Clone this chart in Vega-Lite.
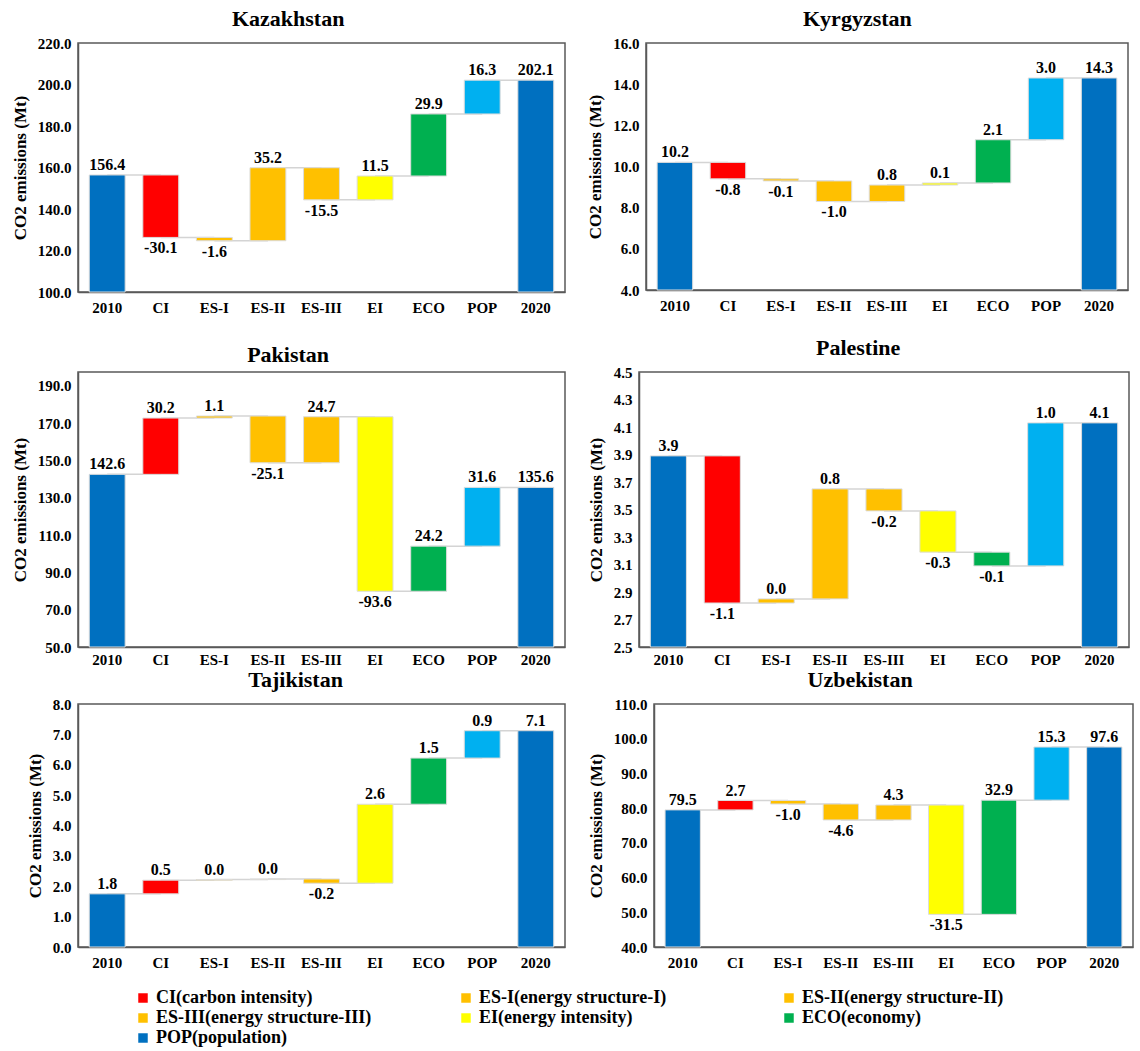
{
  "$schema": "https://vega.github.io/schema/vega-lite/v6.json",
  "padding": {"left": 10, "top": 7, "right": 5, "bottom": 5},
  "datasets": {
    "wf": [
      {"country": "Kazakhstan", "cat": "2010", "next": "CI", "start": 100, "end": 156.4, "label": "156.4", "grp": "POP(population)"},
      {"country": "Kazakhstan", "cat": "CI", "next": "ES-I", "start": 156.4, "end": 126.3, "label": "-30.1", "grp": "CI(carbon intensity)"},
      {"country": "Kazakhstan", "cat": "ES-I", "next": "ES-II", "start": 126.3, "end": 124.7, "label": "-1.6", "grp": "ES-I(energy structure-I)"},
      {"country": "Kazakhstan", "cat": "ES-II", "next": "ES-III", "start": 124.7, "end": 159.9, "label": "35.2", "grp": "ES-II(energy structure-II)"},
      {"country": "Kazakhstan", "cat": "ES-III", "next": "EI", "start": 159.9, "end": 144.4, "label": "-15.5", "grp": "ES-III(energy structure-III)"},
      {"country": "Kazakhstan", "cat": "EI", "next": "ECO", "start": 144.4, "end": 155.9, "label": "11.5", "grp": "EI(energy intensity)"},
      {"country": "Kazakhstan", "cat": "ECO", "next": "POP", "start": 155.9, "end": 185.8, "label": "29.9", "grp": "ECO(economy)"},
      {"country": "Kazakhstan", "cat": "POP", "next": "2020", "start": 185.8, "end": 202.1, "label": "16.3", "grp": "POP"},
      {"country": "Kazakhstan", "cat": "2020", "next": null, "start": 100, "end": 202.1, "label": "202.1", "grp": "POP(population)"},

      {"country": "Kyrgyzstan", "cat": "2010", "next": "CI", "start": 4, "end": 10.2, "label": "10.2", "grp": "POP(population)"},
      {"country": "Kyrgyzstan", "cat": "CI", "next": "ES-I", "start": 10.2, "end": 9.4, "label": "-0.8", "grp": "CI(carbon intensity)"},
      {"country": "Kyrgyzstan", "cat": "ES-I", "next": "ES-II", "start": 9.4, "end": 9.3, "label": "-0.1", "grp": "ES-I(energy structure-I)"},
      {"country": "Kyrgyzstan", "cat": "ES-II", "next": "ES-III", "start": 9.3, "end": 8.3, "label": "-1.0", "grp": "ES-II(energy structure-II)"},
      {"country": "Kyrgyzstan", "cat": "ES-III", "next": "EI", "start": 8.3, "end": 9.1, "label": "0.8", "grp": "ES-III(energy structure-III)"},
      {"country": "Kyrgyzstan", "cat": "EI", "next": "ECO", "start": 9.1, "end": 9.2, "label": "0.1", "grp": "EI(energy intensity)"},
      {"country": "Kyrgyzstan", "cat": "ECO", "next": "POP", "start": 9.2, "end": 11.3, "label": "2.1", "grp": "ECO(economy)"},
      {"country": "Kyrgyzstan", "cat": "POP", "next": "2020", "start": 11.3, "end": 14.3, "label": "3.0", "grp": "POP"},
      {"country": "Kyrgyzstan", "cat": "2020", "next": null, "start": 4, "end": 14.3, "label": "14.3", "grp": "POP(population)"},

      {"country": "Pakistan", "cat": "2010", "next": "CI", "start": 50, "end": 142.6, "label": "142.6", "grp": "POP(population)"},
      {"country": "Pakistan", "cat": "CI", "next": "ES-I", "start": 142.6, "end": 172.8, "label": "30.2", "grp": "CI(carbon intensity)"},
      {"country": "Pakistan", "cat": "ES-I", "next": "ES-II", "start": 172.8, "end": 173.9, "label": "1.1", "grp": "ES-I(energy structure-I)"},
      {"country": "Pakistan", "cat": "ES-II", "next": "ES-III", "start": 173.9, "end": 148.8, "label": "-25.1", "grp": "ES-II(energy structure-II)"},
      {"country": "Pakistan", "cat": "ES-III", "next": "EI", "start": 148.8, "end": 173.5, "label": "24.7", "grp": "ES-III(energy structure-III)"},
      {"country": "Pakistan", "cat": "EI", "next": "ECO", "start": 173.5, "end": 79.9, "label": "-93.6", "grp": "EI(energy intensity)"},
      {"country": "Pakistan", "cat": "ECO", "next": "POP", "start": 79.9, "end": 104.1, "label": "24.2", "grp": "ECO(economy)"},
      {"country": "Pakistan", "cat": "POP", "next": "2020", "start": 104.1, "end": 135.6, "label": "31.6", "grp": "POP"},
      {"country": "Pakistan", "cat": "2020", "next": null, "start": 50, "end": 135.6, "label": "135.6", "grp": "POP(population)"},

      {"country": "Palestine", "cat": "2010", "next": "CI", "start": 2.5, "end": 3.89, "label": "3.9", "grp": "POP(population)"},
      {"country": "Palestine", "cat": "CI", "next": "ES-I", "start": 3.89, "end": 2.82, "label": "-1.1", "grp": "CI(carbon intensity)"},
      {"country": "Palestine", "cat": "ES-I", "next": "ES-II", "start": 2.82, "end": 2.85, "label": "0.0", "grp": "ES-I(energy structure-I)"},
      {"country": "Palestine", "cat": "ES-II", "next": "ES-III", "start": 2.85, "end": 3.65, "label": "0.8", "grp": "ES-II(energy structure-II)"},
      {"country": "Palestine", "cat": "ES-III", "next": "EI", "start": 3.65, "end": 3.49, "label": "-0.2", "grp": "ES-III(energy structure-III)"},
      {"country": "Palestine", "cat": "EI", "next": "ECO", "start": 3.49, "end": 3.19, "label": "-0.3", "grp": "EI(energy intensity)"},
      {"country": "Palestine", "cat": "ECO", "next": "POP", "start": 3.19, "end": 3.09, "label": "-0.1", "grp": "ECO(economy)"},
      {"country": "Palestine", "cat": "POP", "next": "2020", "start": 3.09, "end": 4.13, "label": "1.0", "grp": "POP"},
      {"country": "Palestine", "cat": "2020", "next": null, "start": 2.5, "end": 4.13, "label": "4.1", "grp": "POP(population)"},

      {"country": "Tajikistan", "cat": "2010", "next": "CI", "start": 0, "end": 1.75, "label": "1.8", "grp": "POP(population)"},
      {"country": "Tajikistan", "cat": "CI", "next": "ES-I", "start": 1.75, "end": 2.2, "label": "0.5", "grp": "CI(carbon intensity)"},
      {"country": "Tajikistan", "cat": "ES-I", "next": "ES-II", "start": 2.2, "end": 2.22, "label": "0.0", "grp": "ES-I(energy structure-I)"},
      {"country": "Tajikistan", "cat": "ES-II", "next": "ES-III", "start": 2.22, "end": 2.24, "label": "0.0", "grp": "ES-II(energy structure-II)"},
      {"country": "Tajikistan", "cat": "ES-III", "next": "EI", "start": 2.24, "end": 2.1, "label": "-0.2", "grp": "ES-III(energy structure-III)"},
      {"country": "Tajikistan", "cat": "EI", "next": "ECO", "start": 2.1, "end": 4.7, "label": "2.6", "grp": "EI(energy intensity)"},
      {"country": "Tajikistan", "cat": "ECO", "next": "POP", "start": 4.7, "end": 6.22, "label": "1.5", "grp": "ECO(economy)"},
      {"country": "Tajikistan", "cat": "POP", "next": "2020", "start": 6.22, "end": 7.12, "label": "0.9", "grp": "POP"},
      {"country": "Tajikistan", "cat": "2020", "next": null, "start": 0, "end": 7.12, "label": "7.1", "grp": "POP(population)"},

      {"country": "Uzbekistan", "cat": "2010", "next": "CI", "start": 40, "end": 79.5, "label": "79.5", "grp": "POP(population)"},
      {"country": "Uzbekistan", "cat": "CI", "next": "ES-I", "start": 79.5, "end": 82.2, "label": "2.7", "grp": "CI(carbon intensity)"},
      {"country": "Uzbekistan", "cat": "ES-I", "next": "ES-II", "start": 82.2, "end": 81.2, "label": "-1.0", "grp": "ES-I(energy structure-I)"},
      {"country": "Uzbekistan", "cat": "ES-II", "next": "ES-III", "start": 81.2, "end": 76.6, "label": "-4.6", "grp": "ES-II(energy structure-II)"},
      {"country": "Uzbekistan", "cat": "ES-III", "next": "EI", "start": 76.6, "end": 80.9, "label": "4.3", "grp": "ES-III(energy structure-III)"},
      {"country": "Uzbekistan", "cat": "EI", "next": "ECO", "start": 80.9, "end": 49.4, "label": "-31.5", "grp": "EI(energy intensity)"},
      {"country": "Uzbekistan", "cat": "ECO", "next": "POP", "start": 49.4, "end": 82.3, "label": "32.9", "grp": "ECO(economy)"},
      {"country": "Uzbekistan", "cat": "POP", "next": "2020", "start": 82.3, "end": 97.6, "label": "15.3", "grp": "POP"},
      {"country": "Uzbekistan", "cat": "2020", "next": null, "start": 40, "end": 97.6, "label": "97.6", "grp": "POP(population)"}
    ]
  },
  "data": {"name": "wf"},
  "vconcat": [
    {
      "concat": [
        {
          "title": "Kazakhstan", "width": 487, "height": 249,
          "transform": [{"filter": "datum.country === 'Kazakhstan'"}],
          "encoding": {
            "x": {"field": "cat", "type": "nominal", "sort": ["2010","CI","ES-I","ES-II","ES-III","EI","ECO","POP","2020"], "scale": {"paddingInner": 0.33, "paddingOuter": 0.21}, "title": null},
            "y": {"field": "end", "type": "quantitative", "scale": {"domain": [100, 220], "nice": false, "zero": false}, "axis": {"values": [100,120,140,160,180,200,220], "format": ".1f"}, "title": "CO2 emissions (Mt)"}
          },
          "layer": [
            {"mark": {"type": "rule", "color": "#d4d4d4", "strokeWidth": 1.5}, "transform": [{"filter": "datum.next != null"}], "encoding": {"x2": {"field": "next"}}},
            {"mark": {"type": "bar", "stroke": "#dcdcdc", "strokeWidth": 1}, "encoding": {"y2": {"field": "start"}, "color": {"field": "grp", "type": "nominal", "scale": {"domain": ["CI(carbon intensity)","ES-I(energy structure-I)","ES-II(energy structure-II)","ES-III(energy structure-III)","EI(energy intensity)","ECO(economy)","POP(population)","POP"], "range": ["#FF0000","#FFC000","#FFC000","#FFC000","#FFFF00","#00B050","#0070C0","#00B0F0"]}, "legend": {"values": ["CI(carbon intensity)","ES-I(energy structure-I)","ES-II(energy structure-II)","ES-III(energy structure-III)","EI(energy intensity)","ECO(economy)","POP(population)"], "title": null, "orient": "none", "legendX": 56, "legendY": 946}}}},
            {"mark": {"type": "text", "baseline": "bottom", "dy": -2, "fontSize": 16, "fontWeight": "bold"}, "transform": [{"filter": "datum.end >= datum.start"}], "encoding": {"text": {"field": "label"}}},
            {"mark": {"type": "text", "baseline": "top", "dy": 3, "fontSize": 16, "fontWeight": "bold"}, "transform": [{"filter": "datum.end < datum.start"}], "encoding": {"text": {"field": "label"}}}
          ]
        },
        {
          "title": "Kyrgyzstan", "width": 482, "height": 247,
          "transform": [{"filter": "datum.country === 'Kyrgyzstan'"}],
          "encoding": {
            "x": {"field": "cat", "type": "nominal", "sort": ["2010","CI","ES-I","ES-II","ES-III","EI","ECO","POP","2020"], "scale": {"paddingInner": 0.33, "paddingOuter": 0.21}, "title": null},
            "y": {"field": "end", "type": "quantitative", "scale": {"domain": [4, 16], "nice": false, "zero": false}, "axis": {"values": [4,6,8,10,12,14,16], "format": ".1f"}, "title": "CO2 emissions (Mt)"}
          },
          "layer": [
            {"mark": {"type": "rule", "color": "#d4d4d4", "strokeWidth": 1.5}, "transform": [{"filter": "datum.next != null"}], "encoding": {"x2": {"field": "next"}}},
            {"mark": {"type": "bar", "stroke": "#dcdcdc", "strokeWidth": 1}, "encoding": {"y2": {"field": "start"}, "color": {"field": "grp", "type": "nominal", "scale": {"domain": ["CI(carbon intensity)","ES-I(energy structure-I)","ES-II(energy structure-II)","ES-III(energy structure-III)","EI(energy intensity)","ECO(economy)","POP(population)","POP"], "range": ["#FF0000","#FFC000","#FFC000","#FFC000","#FFFF00","#00B050","#0070C0","#00B0F0"]}, "legend": {"values": ["CI(carbon intensity)","ES-I(energy structure-I)","ES-II(energy structure-II)","ES-III(energy structure-III)","EI(energy intensity)","ECO(economy)","POP(population)"], "title": null, "orient": "none", "legendX": 56, "legendY": 946}}}},
            {"mark": {"type": "text", "baseline": "bottom", "dy": -2, "fontSize": 16, "fontWeight": "bold"}, "transform": [{"filter": "datum.end >= datum.start"}], "encoding": {"text": {"field": "label"}}},
            {"mark": {"type": "text", "baseline": "top", "dy": 3, "fontSize": 16, "fontWeight": "bold"}, "transform": [{"filter": "datum.end < datum.start"}], "encoding": {"text": {"field": "label"}}}
          ]
        }
      ],
      "columns": 2,
      "align": "none",
      "spacing": 20
    },
    {
      "concat": [
        {
          "title": "Pakistan", "width": 487, "height": 275,
          "transform": [{"filter": "datum.country === 'Pakistan'"}],
          "encoding": {
            "x": {"field": "cat", "type": "nominal", "sort": ["2010","CI","ES-I","ES-II","ES-III","EI","ECO","POP","2020"], "scale": {"paddingInner": 0.33, "paddingOuter": 0.21}, "axis": {"labelPadding": 5}, "title": null},
            "y": {"field": "end", "type": "quantitative", "scale": {"domain": [50, 197.5], "nice": false, "zero": false}, "axis": {"values": [50,70,90,110,130,150,170,190], "format": ".1f"}, "title": "CO2 emissions (Mt)"}
          },
          "layer": [
            {"mark": {"type": "rule", "color": "#d4d4d4", "strokeWidth": 1.5}, "transform": [{"filter": "datum.next != null"}], "encoding": {"x2": {"field": "next"}}},
            {"mark": {"type": "bar", "stroke": "#dcdcdc", "strokeWidth": 1}, "encoding": {"y2": {"field": "start"}, "color": {"field": "grp", "type": "nominal", "scale": {"domain": ["CI(carbon intensity)","ES-I(energy structure-I)","ES-II(energy structure-II)","ES-III(energy structure-III)","EI(energy intensity)","ECO(economy)","POP(population)","POP"], "range": ["#FF0000","#FFC000","#FFC000","#FFC000","#FFFF00","#00B050","#0070C0","#00B0F0"]}, "legend": {"values": ["CI(carbon intensity)","ES-I(energy structure-I)","ES-II(energy structure-II)","ES-III(energy structure-III)","EI(energy intensity)","ECO(economy)","POP(population)"], "title": null, "orient": "none", "legendX": 56, "legendY": 946}}}},
            {"mark": {"type": "text", "baseline": "bottom", "dy": -2, "fontSize": 16, "fontWeight": "bold"}, "transform": [{"filter": "datum.end >= datum.start"}], "encoding": {"text": {"field": "label"}}},
            {"mark": {"type": "text", "baseline": "top", "dy": 3, "fontSize": 16, "fontWeight": "bold"}, "transform": [{"filter": "datum.end < datum.start"}], "encoding": {"text": {"field": "label"}}}
          ]
        },
        {
          "title": "Palestine", "width": 490, "height": 275,
          "transform": [{"filter": "datum.country === 'Palestine'"}],
          "encoding": {
            "x": {"field": "cat", "type": "nominal", "sort": ["2010","CI","ES-I","ES-II","ES-III","EI","ECO","POP","2020"], "scale": {"paddingInner": 0.33, "paddingOuter": 0.21}, "axis": {"labelPadding": 5}, "title": null},
            "y": {"field": "end", "type": "quantitative", "scale": {"domain": [2.5, 4.5], "nice": false, "zero": false}, "axis": {"values": [2.5,2.7,2.9,3.1,3.3,3.5,3.7,3.9,4.1,4.3,4.5], "format": ".1f"}, "title": "CO2 emissions (Mt)"}
          },
          "layer": [
            {"mark": {"type": "rule", "color": "#d4d4d4", "strokeWidth": 1.5}, "transform": [{"filter": "datum.next != null"}], "encoding": {"x2": {"field": "next"}}},
            {"mark": {"type": "bar", "stroke": "#dcdcdc", "strokeWidth": 1}, "encoding": {"y2": {"field": "start"}, "color": {"field": "grp", "type": "nominal", "scale": {"domain": ["CI(carbon intensity)","ES-I(energy structure-I)","ES-II(energy structure-II)","ES-III(energy structure-III)","EI(energy intensity)","ECO(economy)","POP(population)","POP"], "range": ["#FF0000","#FFC000","#FFC000","#FFC000","#FFFF00","#00B050","#0070C0","#00B0F0"]}, "legend": {"values": ["CI(carbon intensity)","ES-I(energy structure-I)","ES-II(energy structure-II)","ES-III(energy structure-III)","EI(energy intensity)","ECO(economy)","POP(population)"], "title": null, "orient": "none", "legendX": 56, "legendY": 946}}}},
            {"mark": {"type": "text", "baseline": "bottom", "dy": -2, "fontSize": 16, "fontWeight": "bold"}, "transform": [{"filter": "datum.end >= datum.start"}], "encoding": {"text": {"field": "label"}}},
            {"mark": {"type": "text", "baseline": "top", "dy": 3, "fontSize": 16, "fontWeight": "bold"}, "transform": [{"filter": "datum.end < datum.start"}], "encoding": {"text": {"field": "label"}}}
          ]
        },
        {
          "title": "Tajikistan", "width": 487, "height": 243,
          "transform": [{"filter": "datum.country === 'Tajikistan'"}],
          "encoding": {
            "x": {"field": "cat", "type": "nominal", "sort": ["2010","CI","ES-I","ES-II","ES-III","EI","ECO","POP","2020"], "scale": {"paddingInner": 0.33, "paddingOuter": 0.21}, "title": null},
            "y": {"field": "end", "type": "quantitative", "scale": {"domain": [0, 8], "nice": false, "zero": false}, "axis": {"values": [0,1,2,3,4,5,6,7,8], "format": ".1f"}, "title": "CO2 emissions (Mt)"}
          },
          "layer": [
            {"mark": {"type": "rule", "color": "#d4d4d4", "strokeWidth": 1.5}, "transform": [{"filter": "datum.next != null"}], "encoding": {"x2": {"field": "next"}}},
            {"mark": {"type": "bar", "stroke": "#dcdcdc", "strokeWidth": 1}, "encoding": {"y2": {"field": "start"}, "color": {"field": "grp", "type": "nominal", "scale": {"domain": ["CI(carbon intensity)","ES-I(energy structure-I)","ES-II(energy structure-II)","ES-III(energy structure-III)","EI(energy intensity)","ECO(economy)","POP(population)","POP"], "range": ["#FF0000","#FFC000","#FFC000","#FFC000","#FFFF00","#00B050","#0070C0","#00B0F0"]}, "legend": {"values": ["CI(carbon intensity)","ES-I(energy structure-I)","ES-II(energy structure-II)","ES-III(energy structure-III)","EI(energy intensity)","ECO(economy)","POP(population)"], "title": null, "orient": "none", "legendX": 56, "legendY": 946}}}},
            {"mark": {"type": "text", "baseline": "bottom", "dy": -2, "fontSize": 16, "fontWeight": "bold"}, "transform": [{"filter": "datum.end >= datum.start"}], "encoding": {"text": {"field": "label"}}},
            {"mark": {"type": "text", "baseline": "top", "dy": 3, "fontSize": 16, "fontWeight": "bold"}, "transform": [{"filter": "datum.end < datum.start"}], "encoding": {"text": {"field": "label"}}}
          ]
        },
        {
          "title": "Uzbekistan", "width": 479, "height": 243,
          "transform": [{"filter": "datum.country === 'Uzbekistan'"}],
          "encoding": {
            "x": {"field": "cat", "type": "nominal", "sort": ["2010","CI","ES-I","ES-II","ES-III","EI","ECO","POP","2020"], "scale": {"paddingInner": 0.33, "paddingOuter": 0.21}, "title": null},
            "y": {"field": "end", "type": "quantitative", "scale": {"domain": [40, 110], "nice": false, "zero": false}, "axis": {"values": [40,50,60,70,80,90,100,110], "format": ".1f"}, "title": "CO2 emissions (Mt)"}
          },
          "layer": [
            {"mark": {"type": "rule", "color": "#d4d4d4", "strokeWidth": 1.5}, "transform": [{"filter": "datum.next != null"}], "encoding": {"x2": {"field": "next"}}},
            {"mark": {"type": "bar", "stroke": "#dcdcdc", "strokeWidth": 1}, "encoding": {"y2": {"field": "start"}, "color": {"field": "grp", "type": "nominal", "scale": {"domain": ["CI(carbon intensity)","ES-I(energy structure-I)","ES-II(energy structure-II)","ES-III(energy structure-III)","EI(energy intensity)","ECO(economy)","POP(population)","POP"], "range": ["#FF0000","#FFC000","#FFC000","#FFC000","#FFFF00","#00B050","#0070C0","#00B0F0"]}, "legend": {"values": ["CI(carbon intensity)","ES-I(energy structure-I)","ES-II(energy structure-II)","ES-III(energy structure-III)","EI(energy intensity)","ECO(economy)","POP(population)"], "title": null, "orient": "none", "legendX": 56, "legendY": 946}}}},
            {"mark": {"type": "text", "baseline": "bottom", "dy": -2, "fontSize": 16, "fontWeight": "bold"}, "transform": [{"filter": "datum.end >= datum.start"}], "encoding": {"text": {"field": "label"}}},
            {"mark": {"type": "text", "baseline": "top", "dy": 3, "fontSize": 16, "fontWeight": "bold"}, "transform": [{"filter": "datum.end < datum.start"}], "encoding": {"text": {"field": "label"}}}
          ]
        }
      ],
      "columns": 2,
      "align": "none",
      "spacing": {"column": 20, "row": 0}
    }
  ],
  "spacing": 20,
  "config": {
    "font": "Liberation Serif",
    "background": "white",
    "view": {"stroke": "#595959", "strokeWidth": 1.5},
    "title": {"fontSize": 22, "fontWeight": "bold", "font": "Liberation Serif", "color": "black", "anchor": "middle", "frame": "bounds", "offset": 5},
    "axis": {"labelFont": "Liberation Serif", "labelFontSize": 15, "labelFontWeight": "bold", "labelColor": "black", "titleFont": "Liberation Serif", "titleFontSize": 17, "titleFontWeight": "bold", "titleColor": "black", "ticks": false, "grid": false, "domainColor": "#595959", "domainWidth": 1.5, "labelPadding": 7},
    "axisX": {"labelAngle": 0, "labelPadding": 8},
    "axisY": {"titlePadding": 8},
    "text": {"font": "Liberation Serif", "color": "black"},
    "legend": {"direction": "horizontal", "columns": 3, "gridAlign": "all", "labelFont": "Liberation Serif", "labelFontSize": 18, "labelFontWeight": "bold", "labelColor": "black", "symbolType": "square", "symbolSize": 90, "symbolStrokeWidth": 0, "columnPadding": 85, "rowPadding": 2, "labelLimit": 400, "labelOffset": 4}
  }
}
